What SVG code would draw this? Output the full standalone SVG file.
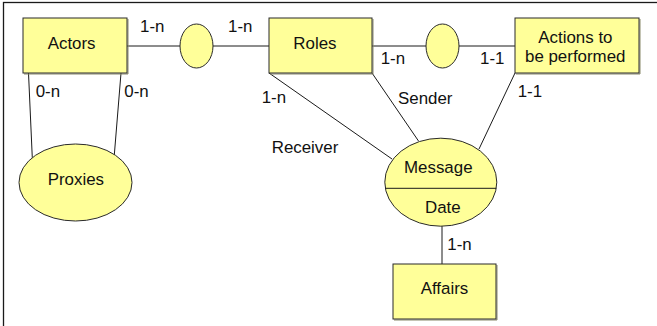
<svg xmlns="http://www.w3.org/2000/svg" width="657" height="326" viewBox="0 0 657 326">
  <style>
    .frame { fill: #ffffff; stroke: #1a1a1a; stroke-width: 1.3; }
    .ent { fill: #ffff99; stroke: #2a2a2a; stroke-width: 1; }
    .shadow { fill: none; stroke: #8a8a6a; stroke-width: 1; }
    .rel { fill: #ffff99; stroke: #2a2a2a; stroke-width: 1; }
    .edge { fill: none; stroke: #1a1a1a; stroke-width: 1; }
    text { font-family: "Liberation Sans", Arial, sans-serif; font-size: 16.9px; fill: #111111; }
  </style>

  <!-- page frame -->
  <rect class="frame" x="3.5" y="2.5" width="700" height="400"/>

  <!-- connectors and cardinalities -->
  <g id="connectors">
    <line class="edge" x1="127" y1="46" x2="180" y2="46"/>
    <line class="edge" x1="213" y1="46" x2="269" y2="46"/>
    <line class="edge" x1="372" y1="46" x2="426" y2="46"/>
    <line class="edge" x1="459" y1="46" x2="515" y2="46"/>
    <line class="edge" x1="28.5" y1="73" x2="32.3" y2="158"/>
    <line class="edge" x1="121" y1="73" x2="114.3" y2="155"/>
    <line class="edge" x1="269" y1="73" x2="392" y2="159"/>
    <line class="edge" x1="372" y1="73" x2="418.5" y2="141"/>
    <line class="edge" x1="515" y1="73" x2="479" y2="149"/>
    <line class="edge" x1="442" y1="226" x2="442" y2="264"/>

    <text x="140" y="31.5">1-n</text>
    <text x="228" y="31.5">1-n</text>
    <text x="35.7" y="97">0-n</text>
    <text x="124.3" y="97">0-n</text>
    <text x="261.7" y="103">1-n</text>
    <text x="271.7" y="153">Receiver</text>
    <text x="380.7" y="64">1-n</text>
    <text x="480" y="64">1-1</text>
    <text x="398" y="104">Sender</text>
    <text x="517.7" y="97">1-1</text>
    <text x="447.3" y="250">1-n</text>
  </g>

  <g id="actors">
    <polyline class="shadow" points="128,19 128,74 24,74"/>
    <rect class="ent" x="23" y="18" width="104" height="55"/>
    <text x="47.7" y="49">Actors</text>
  </g>

  <g id="rel-actors-roles">
    <ellipse class="rel" cx="196.5" cy="46" rx="16.5" ry="22"/>
  </g>

  <g id="roles">
    <polyline class="shadow" points="373,19 373,74 270,74"/>
    <rect class="ent" x="269" y="18" width="103" height="55"/>
    <text x="293.3" y="49">Roles</text>
  </g>

  <g id="rel-roles-actions">
    <ellipse class="rel" cx="442.5" cy="46" rx="16.5" ry="22"/>
  </g>

  <g id="actions">
    <polyline class="shadow" points="640,19 640,74 516,74"/>
    <rect class="ent" x="515" y="18" width="124" height="55"/>
    <text x="538.3" y="42.5">Actions to</text>
    <text x="525" y="61.5">be performed</text>
  </g>

  <g id="proxies">
    <ellipse class="rel" cx="75.5" cy="182.5" rx="56.5" ry="38.5"/>
    <text x="47.7" y="184.5">Proxies</text>
  </g>

  <g id="message">
    <ellipse class="rel" cx="440.8" cy="182.2" rx="56" ry="44"/>
    <line class="edge" x1="385.3" y1="188.3" x2="496.3" y2="188.3"/>
    <text x="404" y="172.5">Message</text>
    <text x="425" y="212.5">Date</text>
  </g>

  <g id="affairs">
    <polyline class="shadow" points="497,265 497,320 394,320"/>
    <rect class="ent" x="393" y="264" width="103" height="55"/>
    <text x="420.7" y="294">Affairs</text>
  </g>
</svg>
